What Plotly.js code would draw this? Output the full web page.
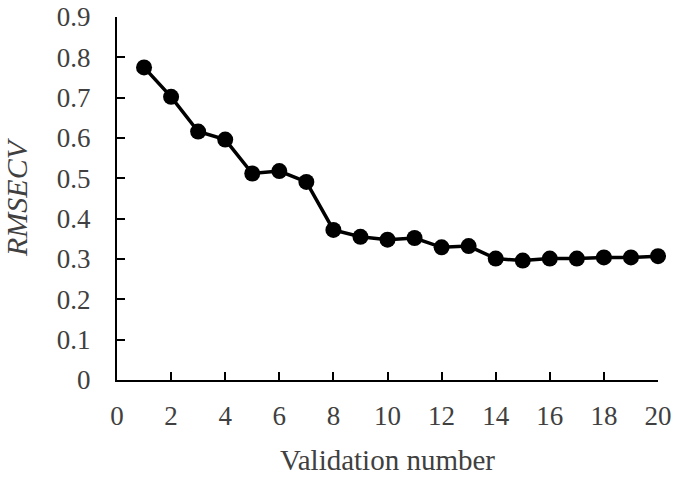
<!DOCTYPE html>
<html>
<head>
<meta charset="utf-8">
<script src="https://cdn.plot.ly/plotly-3.0.1.min.js"></script>
<style>html,body{margin:0;padding:0;background:#fff;}#chart{width:675px;height:478px;}</style>
</head>
<body>
<div id="chart"></div>
<script>
const validationNumber = [1,2,3,4,5,6,7,8,9,10,11,12,13,14,15,16,17,18,19,20];
const rmsecv = [0.775,0.702,0.616,0.596,0.512,0.518,0.491,0.372,0.355,0.348,0.352,0.329,0.332,0.301,0.296,0.301,0.301,0.304,0.304,0.307];
const xTicks = [0,2,4,6,8,10,12,14,16,18,20];
const yTicks = [0,0.1,0.2,0.3,0.4,0.5,0.6,0.7,0.8,0.9];

const fontFam = '"Liberation Serif", "Times New Roman", serif';
const tickFont = {family: fontFam, size: 27, color: '#404040'};
const trace = {
  x: validationNumber, y: rmsecv, type: 'scatter', mode: 'lines+markers',
  line: {color: '#000', width: 3.5},
  marker: {color: '#000', size: 16},
  cliponaxis: false, showlegend: false
};
const layout = {
  width: 675, height: 478,
  margin: {l: 117, r: 17, t: 17, b: 98},
  paper_bgcolor: '#fff', plot_bgcolor: '#fff',
  font: {family: fontFam, size: 27, color: '#404040'},
  xaxis: {
    range: [0, 20], tickvals: xTicks, ticktext: xTicks.map(String), tickfont: tickFont,
    showgrid: false, zeroline: false, showline: true, linecolor: '#000', linewidth: 2,
    ticks: 'inside', ticklen: 8, tickwidth: 2, tickcolor: '#000',
    ticklabelstandoff: 11,
    title: {text: 'Validation number', font: {family: fontFam, size: 29, color: '#404040'}, standoff: 19}
  },
  yaxis: {
    range: [0, 0.9], tickvals: yTicks, ticktext: yTicks.map(v => v === 0 ? '0' : v.toFixed(1)), tickfont: tickFont,
    showgrid: false, zeroline: false, showline: true, linecolor: '#000', linewidth: 2,
    ticks: 'inside', ticklen: 8, tickwidth: 2, tickcolor: '#000',
    ticklabelstandoff: 19,
    title: {text: '<i>RMSECV</i>', font: {family: fontFam, size: 30, color: '#404040'}, standoff: 28}
  }
};
Plotly.newPlot('chart', [trace], layout, {staticPlot: true, displayModeBar: false});
</script>
</body>
</html>
